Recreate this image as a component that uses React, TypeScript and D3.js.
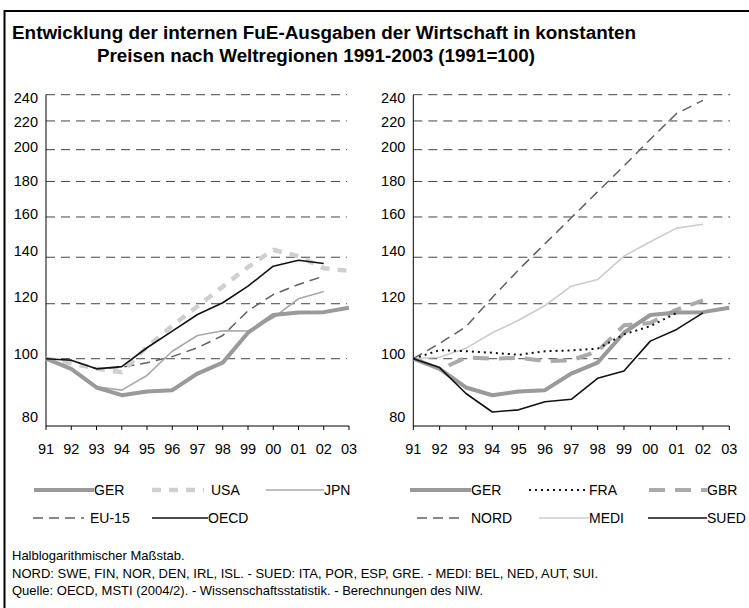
import React from "react";
import * as d3 from "d3";

const YEARS = ["91", "92", "93", "94", "95", "96", "97", "98", "99", "00", "01", "02", "03"];
const Y_TICKS = [80, 100, 120, 140, 160, 180, 200, 220, 240];

// Left panel
const GER = [100, 96.7, 90.9, 88.6, 89.7, 90.1, 95.2, 98.7, 109, 115.6, 116.6, 116.7, 118.4];
const USA = [100, 98.5, 96.8, 95.6, 104, 111.5, 119, 127, 135.5, 143.5, 140.5, 135, 133.8];
const JPN = [100, 96.7, 91.1, 90.1, 94.6, 102.5, 108, 109.7, 109.6, 114.5, 122, 125, null];
const EU15 = [100, 99.5, 96.7, 97.2, 98.7, 100.7, 103.7, 108, 117.2, 123.7, 127.9, 131.5, null];
const OECD = [100, 99.5, 96.7, 97.4, 103.7, 109.6, 115.8, 120.4, 127.2, 135.9, 138.6, 137.1, null];

// Right panel
const FRA = [100, 102.9, 102.5, 102, 101.3, 102.5, 102.8, 103.4, 108.4, 111.4, 116.4, null, null];
const GBR = [null, 96.4, 100.4, 100, 100.3, 99.2, 99.5, 102.5, 111.7, 112.6, 117.7, 121.3, null];
const NORD = [100, 105.2, 111.2, 122.5, 134.3, 146.4, 159.6, 174, 189.5, 207, 225.5, 235.5, null];
const MEDI = [100, 100.5, 103.5, 109, 113.6, 119.3, 127.2, 130, 140.5, 147.4, 154.2, 156.2, null];
const SUED = [100, 97.1, 89.1, 83.8, 84.4, 86.7, 87.4, 93.7, 96, 106, 110.2, 116.4, null];

const TITLE_1 = "Entwicklung der internen FuE-Ausgaben der Wirtschaft in konstanten";
const TITLE_2 = "Preisen nach Weltregionen 1991-2003 (1991=100)";
const NOTES = [
  "Halblogarithmischer Maßstab.",
  "NORD: SWE, FIN, NOR, DEN, IRL, ISL. - SUED: ITA, POR, ESP, GRE. - MEDI: BEL, NED, AUT, SUI.",
  "Quelle: OECD, MSTI (2004/2). - Wissenschaftsstatistik. - Berechnungen des NIW.",
];

type Style = { stroke: string; width: number; dash?: string; offset?: number };

const ST: Record<string, Style> = {
  GER: { stroke: "#9a9a9a", width: 4 },
  USA: { stroke: "#cfcfcf", width: 4.5, dash: "9,8" },
  JPN: { stroke: "#a8a8a8", width: 1.6 },
  EU15: { stroke: "#606060", width: 1.5, dash: "10,6" },
  OECD: { stroke: "#111", width: 1.6 },
  FRA: { stroke: "#111", width: 2, dash: "2,4" },
  GBR: { stroke: "#aaaaaa", width: 4, dash: "16,10", offset: 16 },
  NORD: { stroke: "#606060", width: 1.5, dash: "10,6" },
  MEDI: { stroke: "#cccccc", width: 1.6 },
  SUED: { stroke: "#111", width: 1.6 },
};

const FONT = "'Liberation Sans', Arial, sans-serif";

const y = d3.scaleLog().domain([80, 240]).range([426, 94.7]);

// label nudges relative to gridline (layout only)
const LABEL_NUDGE: Record<number, number> = {
  240: 3.5, 220: 1, 200: -3, 180: -0.5, 160: -3, 140: -6, 120: -7, 100: -5, 80: -9,
};

type Series = { key: string; values: (number | null)[] };

function Panel({ x0, x1, gridEnd, series }: { x0: number; x1: number; gridEnd: number; series: Series[] }) {
  const x = d3.scalePoint<string>().domain(YEARS).range([x0, x1]);
  const line = (vals: (number | null)[]) =>
    d3
      .line<number | null>()
      .defined((d) => d != null)
      .x((_, i) => x(YEARS[i]) as number)
      .y((d) => y(d as number))(vals) || "";
  return (
    <g>
      {Y_TICKS.filter((t) => t !== 80).map((t) => (
        <line key={t} x1={x0} x2={gridEnd} y1={y(t)} y2={y(t)} stroke="#444" strokeWidth={1} strokeDasharray="9,6" />
      ))}
      {Y_TICKS.map((t) => (
        <text key={"l" + t} x={x0 - 8} y={y(t) + LABEL_NUDGE[t]} dy="0.35em" textAnchor="end" fontSize={14.5} fontFamily={FONT} fill="#000">
          {t}
        </text>
      ))}
      <line x1={x0} x2={x0} y1={y(240)} y2={y(80)} stroke="#000" strokeWidth={1} />
      <line x1={x0} x2={x1} y1={y(80)} y2={y(80)} stroke="#000" strokeWidth={1} />
      {YEARS.map((yr) => (
        <g key={yr}>
          <line x1={x(yr)} x2={x(yr)} y1={y(80)} y2={y(80) + 4} stroke="#000" strokeWidth={1} />
          <text x={x(yr)} y={449} dy="0.35em" textAnchor="middle" fontSize={14.5} fontFamily={FONT} fill="#000">
            {yr}
          </text>
        </g>
      ))}
      {series.map((s) => {
        const st = ST[s.key];
        return (
          <path
            key={s.key}
            d={line(s.values)}
            fill="none"
            stroke={st.stroke}
            strokeWidth={st.width}
            strokeDasharray={st.dash}
            strokeDashoffset={st.offset}
            strokeLinejoin="round"
          />
        );
      })}
    </g>
  );
}

function LegendItem({ k, label, lx0, lx1, ty, gap }: { k: string; label: string; lx0: number; lx1: number; ty: number; gap: number }) {
  const st = ST[k];
  return (
    <g>
      <line x1={lx0} x2={lx1} y1={ty} y2={ty} stroke={st.stroke} strokeWidth={st.width} strokeDasharray={st.dash} />
      <text x={lx1 + gap} y={ty} dy="0.35em" fontSize={14} fontFamily={FONT} fill="#000">
        {label}
      </text>
    </g>
  );
}

export default function App() {
  const r1 = 490;
  const r2 = 518;
  return (
    <div style={{ position: "absolute", left: 0, top: 0, width: 749, height: 608, background: "#fff" }}>
      <svg width={749} height={608} style={{ display: "block" }}>
        <rect x={0} y={0} width={749} height={608} fill="#fff" />
        <line x1={4.5} x2={749} y1={11} y2={11} stroke="#000" strokeWidth={2} />
        <line x1={4.5} x2={4.5} y1={10} y2={608} stroke="#000" strokeWidth={2} />
        <text x={12} y={39} fontSize={18} fontWeight="bold" fontFamily={FONT} fill="#000" textLength={624} lengthAdjust="spacingAndGlyphs">
          {TITLE_1}
        </text>
        <text x={97} y={61.5} fontSize={18} fontWeight="bold" fontFamily={FONT} fill="#000" textLength={438} lengthAdjust="spacingAndGlyphs">
          {TITLE_2}
        </text>

        <Panel
          x0={46}
          x1={349}
          gridEnd={347}
          series={[
            { key: "EU15", values: EU15 },
            { key: "JPN", values: JPN },
            { key: "USA", values: USA },
            { key: "GER", values: GER },
            { key: "OECD", values: OECD },
          ]}
        />
        <Panel
          x0={413.3}
          x1={729.3}
          gridEnd={730}
          series={[
            { key: "NORD", values: NORD },
            { key: "MEDI", values: MEDI },
            { key: "GBR", values: GBR },
            { key: "GER", values: GER },
            { key: "FRA", values: FRA },
            { key: "SUED", values: SUED },
          ]}
        />

        <LegendItem k="GER" label="GER" lx0={34} lx1={94} ty={r1} gap={0} />
        <LegendItem k="USA" label="USA" lx0={152} lx1={204} ty={r1} gap={7} />
        <LegendItem k="JPN" label="JPN" lx0={266} lx1={324} ty={r1} gap={0} />
        <LegendItem k="EU15" label="EU-15" lx0={33} lx1={84} ty={r2} gap={6} />
        <LegendItem k="OECD" label="OECD" lx0={152} lx1={208} ty={r2} gap={0} />

        <LegendItem k="GER" label="GER" lx0={410} lx1={471} ty={r1} gap={0} />
        <LegendItem k="FRA" label="FRA" lx0={529} lx1={589} ty={r1} gap={0} />
        <LegendItem k="GBR" label="GBR" lx0={649} lx1={707} ty={r1} gap={0} />
        <LegendItem k="NORD" label="NORD" lx0={417} lx1={465} ty={r2} gap={6} />
        <LegendItem k="MEDI" label="MEDI" lx0={539} lx1={589} ty={r2} gap={0} />
        <LegendItem k="SUED" label="SUED" lx0={648} lx1={707} ty={r2} gap={0} />

        {NOTES.map((n, i) => (
          <text key={i} x={12} y={560 + i * 17.5} fontSize={13} fontFamily={FONT} fill="#000">
            {n}
          </text>
        ))}
      </svg>
    </div>
  );
}
